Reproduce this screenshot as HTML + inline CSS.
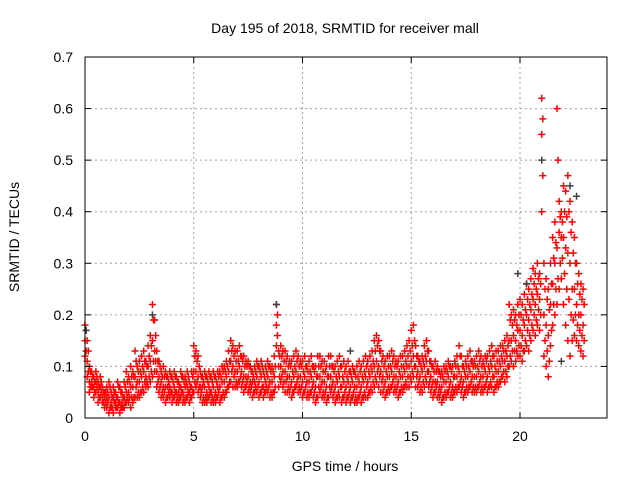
<!DOCTYPE html>
<html><head><meta charset="utf-8"><style>
html,body{margin:0;padding:0;background:#fff;}
svg{display:block;font-family:"Liberation Sans",sans-serif;}
</style></head><body>
<svg id="chart" width="640" height="480" viewBox="0 0 640 480">
<rect x="0" y="0" width="640" height="480" fill="#fff"/>
<text x="345" y="33" font-size="14" text-anchor="middle" fill="#000">Day 195 of 2018, SRMTID for receiver mall</text>
<text x="345" y="471" font-size="14" text-anchor="middle" fill="#000">GPS time / hours</text>
<text x="19" y="237" font-size="14" text-anchor="middle" fill="#000" transform="rotate(-90 19 237)">SRMTID / TECUs</text>
<g id="grid"></g>
<g id="marks"></g>
<g id="axes"></g>
</svg>
<script>
// data values in hundredths of TECU, sampled every 0.1 h starting at 0
const startHour = 0;
const stepHour = 0.1;
const srmtidLowCenti = [12,8,5,6,4,5,3,4,3,2, 2,1,2,1,2,2,1,2,2,3, 3,2,3,4,4,4,5,5,6,6, 7,8,9,6,5,4,4,3,4,4, 3,4,3,3,4,3,3,4,3,4, 5,6,5,4,3,3,3,4,3,3, 3,4,3,4,4,5,6,7,6,6, 6,7,6,5,6,5,5,4,5,5, 4,5,4,5,5,4,4,5,14,6, 7,6,5,5,5,4,5,6,5,5, 4,5,4,4,5,4,3,4,5,4, 4,3,4,5,4,3,4,4,3,4, 3,4,3,4,3,3,4,3,4,4, 4,5,5,6,7,6,5,5,4,5, 5,6,5,5,4,5,5,6,6,6, 7,8,6,6,5,5,6,7,6,5, 4,5,4,4,3,4,4,5,4,4, 5,5,6,5,4,5,5,6,5,5, 5,6,5,5,6,5,6,6,5,6, 6,7,8,7,8,10,11,10,11,12, 12,11,13,14,13,15,17,16,18,17, 40,12,10,8,14,18,20,22,25,27, 22,18,15,12,15,16,15,14,13,12];
const srmtidHighCenti = [18,15,10,9,8,9,7,8,6,5, 6,7,5,6,5,7,6,5,7,9, 8,10,9,13,10,11,12,13,11,14, 16,22,19,13,11,9,10,9,8,9, 8,9,8,7,9,8,8,9,7,9, 14,13,12,9,8,9,8,9,8,9, 8,9,9,10,10,11,13,15,14,13, 13,14,12,12,11,11,10,9,10,11, 10,11,9,10,11,10,10,12,22,13, 14,13,13,12,11,11,12,13,12,11, 11,12,10,11,12,10,10,12,12,11, 11,10,12,12,10,10,11,12,10,11, 10,11,9,10,9,10,11,10,11,12, 11,12,13,15,16,15,13,12,11,12, 12,13,12,11,11,12,12,13,14,15, 17,18,14,12,11,12,14,15,13,11, 10,11,10,9,9,10,10,11,10,10, 11,12,14,12,10,11,12,13,11,11, 12,13,12,11,12,12,13,14,12,13, 13,14,14,15,16,22,20,21,20,22, 23,22,24,26,25,27,29,28,30,28, 62,30,27,25,30,35,38,60,42,40, 45,44,47,42,38,35,30,28,26,25];
const srmtidMidCenti = [15,11,7,7,6,7,5,6,4,4, 4,4,3,4,3,4,3,3,4,5, 5,6,6,8,7,7,8,9,8,10, 11,15,13,9,8,7,6,6,6,6, 5,6,5,5,6,5,6,6,5,6, 9,9,8,6,6,6,5,6,5,6, 5,6,6,7,7,8,9,11,10,9, 9,10,9,8,8,8,7,7,7,8, 7,8,6,7,8,7,7,8,18,10, 10,9,9,8,8,7,8,9,8,8, 7,8,7,7,8,7,6,8,8,7, 7,6,8,8,7,6,7,8,6,7, 6,7,6,7,6,6,7,6,7,8, 7,8,9,10,11,10,9,8,7,8, 8,9,8,8,7,8,8,9,10,10, 11,12,10,9,8,9,10,11,9,8, 7,7,7,6,6,7,7,8,7,6, 8,8,9,8,7,8,8,9,8,8, 8,9,8,8,9,8,9,10,8,9, 9,10,11,11,12,15,15,16,15,17, 17,16,18,20,19,21,23,22,24,23, 55,20,18,16,22,26,30,33,36,35, 35,33,32,30,25,25,22,20,20,18];
// offset samples at t + 0.05 h
const offsetHour = 0.05;
const srmtidQ1Centi = [13,9,6,6,5,6,4,5,3,3, 3,2,2,3,2,3,2,2,3,4, 4,4,4,6,5,5,6,7,7,8, 9,11,11,7,6,5,5,4,5,5, 4,5,4,4,5,4,4,5,4,5, 7,7,6,5,4,4,4,5,4,4, 4,5,4,5,5,6,7,9,8,7, 7,8,7,6,7,6,6,5,6,6, 5,6,5,6,6,5,5,6,16,8, 8,7,7,6,6,5,6,7,6,6, 5,6,5,5,6,5,4,6,6,5, 5,4,6,6,5,4,5,6,4,5, 4,5,4,5,4,4,5,4,5,6, 5,6,7,8,9,8,7,6,5,6, 6,7,6,6,5,6,6,7,8,8, 9,10,8,7,6,7,8,9,7,6, 5,6,5,5,4,5,5,6,5,5, 6,6,7,6,5,6,6,7,6,6, 6,7,6,6,7,6,7,8,6,7, 7,8,9,9,10,12,13,13,13,14, 14,13,15,17,16,18,20,19,21,20, 47,15,13,11,17,22,25,27,30,31, 28,25,23,20,19,20,18,17,16,15];
const srmtidQ3Centi = [17,13,9,8,7,8,6,7,5,5, 5,6,4,5,4,6,5,4,6,7, 7,8,8,11,9,9,10,11,10,12, 14,19,16,11,10,8,8,8,7,8, 7,8,7,6,8,7,7,8,6,8, 12,11,10,8,7,8,7,8,7,8, 7,8,8,9,9,10,11,13,12,11, 11,12,11,10,10,10,9,8,9,10, 9,10,8,9,10,9,9,10,20,12, 12,11,11,10,10,9,10,11,10,10, 9,10,9,9,10,9,8,10,10,9, 9,8,10,10,9,8,9,10,8,9, 8,9,8,9,8,8,9,8,9,10, 9,10,11,13,14,13,11,10,9,10, 10,11,10,10,9,10,10,11,12,13, 14,15,12,11,10,11,12,13,11,10, 9,9,9,8,8,9,9,10,9,8, 10,10,12,10,9,10,10,11,10,10, 10,11,10,10,11,10,11,12,10,11, 11,12,13,13,14,19,18,19,18,20, 20,19,21,23,22,24,26,25,27,26, 58,25,23,21,26,31,34,50,39,38, 40,39,40,36,32,30,26,24,23,22];
const darkTimes = [0.05,3.1,8.8,12.2,19.9,20.3,21.0,21.9,22.3,22.6];
const darkValues = [0.17,0.2,0.22,0.13,0.28,0.26,0.5,0.11,0.45,0.43];
const xTicks = [0,5,10,15,20];
const yTicks = [0,0.1,0.2,0.3,0.4,0.5,0.6,0.7];
const yTickLabels = ["0","0.1","0.2","0.3","0.4","0.5","0.6","0.7"];

const L=85,R=607,T=57,B=418,XMAX=24,YMAX=0.7;
const NS="http://www.w3.org/2000/svg";
function xs(v){return L+(R-L)*v/XMAX;}
function ys(v){return B-(B-T)*v/YMAX;}
function mk(tag,attrs,parent){const e=document.createElementNS(NS,tag);for(const k in attrs)e.setAttribute(k,attrs[k]);parent.appendChild(e);return e;}
const grid=document.getElementById('grid'),marks=document.getElementById('marks'),axes=document.getElementById('axes');
xTicks.forEach(t=>{
  if(t>0){const g=mk('line',{x1:xs(t),x2:xs(t),y1:T,y2:B,stroke:'#a0a0a0','stroke-dasharray':'2,3'},grid);
  
  }
  mk('line',{x1:xs(t),x2:xs(t),y1:B,y2:B-6,stroke:'#000'},axes);
  mk('line',{x1:xs(t),x2:xs(t),y1:T,y2:T+6,stroke:'#000'},axes);
  const lb=mk('text',{x:xs(t),y:B+23,'font-size':14,'text-anchor':'middle',fill:'#000'},axes);
  lb.textContent=String(t);
  
  
});
yTicks.forEach((t,i)=>{
  if(t>0&&t<YMAX){const g=mk('line',{x1:L,x2:R,y1:ys(t),y2:ys(t),stroke:'#a0a0a0','stroke-dasharray':'2,3'},grid);
  
  }
  mk('line',{x1:L,x2:L+6,y1:ys(t),y2:ys(t),stroke:'#000'},axes);
  mk('line',{x1:R,x2:R-6,y1:ys(t),y2:ys(t),stroke:'#000'},axes);
  const lb=mk('text',{x:L-12,y:ys(t)+5,'font-size':14,'text-anchor':'end',fill:'#000'},axes);
  lb.textContent=yTickLabels[i];
  
  
});
mk('rect',{x:L,y:T,width:R-L,height:B-T,fill:'none',stroke:'#000'},axes);
function cross(x,y,color){
  const p=mk('path',{d:`M${x-3.5} ${y}H${x+3.5}M${x} ${y-3.5}V${y+3.5}`,stroke:color,'stroke-width':1.5,fill:'none'},marks);
  
  
}
[srmtidLowCenti,srmtidHighCenti,srmtidMidCenti].forEach(arr=>{
  arr.forEach((v,i)=>{const t=startHour+i*stepHour;cross(xs(t),ys(v/100),'#ff0000');});
});
[srmtidQ1Centi,srmtidQ3Centi].forEach(arr=>{
  arr.forEach((v,i)=>{const t=startHour+i*stepHour+offsetHour;cross(xs(t),ys(v/100),'#ff0000');});
});
darkTimes.forEach((t,i)=>cross(xs(t),ys(darkValues[i]),'#404040'));
</script>
</body></html>
